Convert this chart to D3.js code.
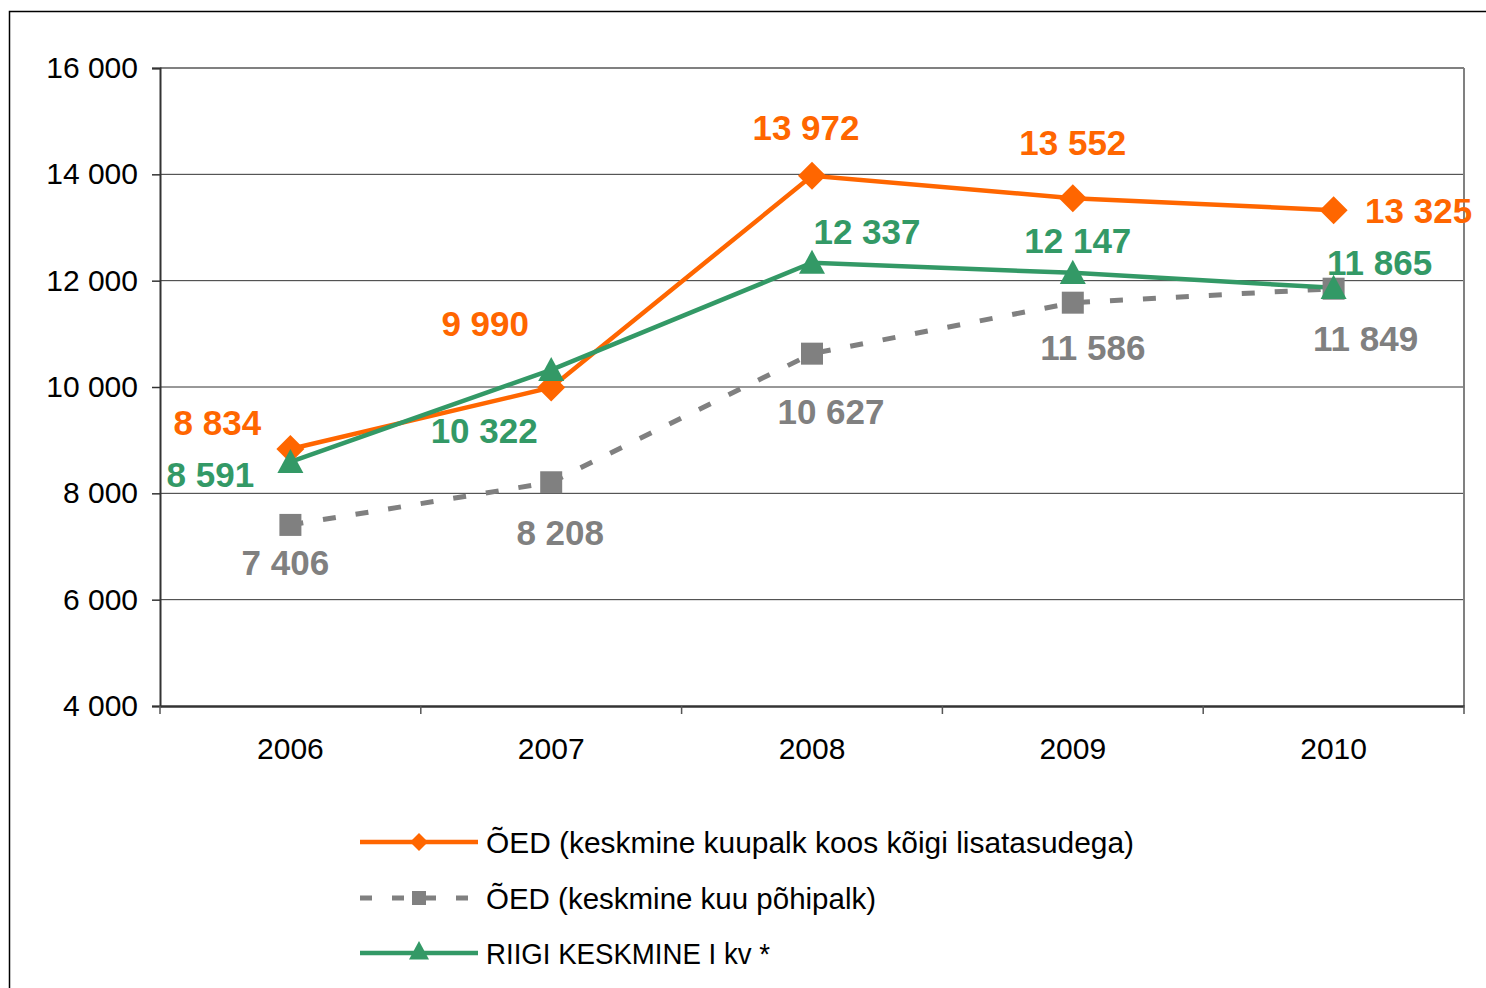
<!DOCTYPE html>
<html><head><meta charset="utf-8">
<script src="https://cdn.jsdelivr.net/npm/d3@7"></script>
<style>body{margin:0;background:#fff;font-family:"Liberation Sans",Arial,sans-serif}</style>
</head><body>
<svg id="c" width="1486" height="988"></svg>
<script>
const categories = ["2006","2007","2008","2009","2010"];
const seriesNames = ["ÕED (keskmine kuupalk koos kõigi lisatasudega)","ÕED (keskmine kuu põhipalk)","RIIGI KESKMINE I kv *"];
const totalPay = [8834, 9990, 13972, 13552, 13325];
const basePay = [7406, 8208, 10627, 11586, 11849];
const national = [8591, 10322, 12337, 12147, 11865];
const yTicks = [4000, 6000, 8000, 10000, 12000, 14000, 16000];
// label offsets (dx, dy) relative to point
const totalOff = [[-73,-26],[-66,-64],[-6,-48],[0,-56],[85,0]];
const baseOff = [[-5,38],[9,50],[19,58],[20,45],[32,50]];
const natOff = [[-80,13],[-67,61],[55,-31],[5,-32],[46,-25]];

const svg = d3.select("#c");
const L=160,R=1464,T=68,B=706;
const x = d3.scaleBand().domain(categories).range([L,R]);
const y = d3.scaleLinear().domain([4000,16000]).range([B,T]);
const cx = d => x(d)+x.bandwidth()/2;
const fmt = v => d3.format(",")(v).replace(/,/g," ");

svg.append("rect").attr("x",9.5).attr("y",11.5).attr("width",1500).attr("height",1000).attr("fill","none").attr("stroke","#000").attr("stroke-width",1.5);

// gridlines
svg.append("g").selectAll("line").data(yTicks.filter(v=>v>4000 && v<16000)).join("line")
  .attr("x1",L).attr("x2",R).attr("y1",d=>y(d)).attr("y2",d=>y(d)).attr("stroke","#333").attr("stroke-width",1);
// top & right border
svg.append("line").attr("x1",L).attr("x2",R).attr("y1",T).attr("y2",T).attr("stroke","#808080").attr("stroke-width",2);
svg.append("line").attr("x1",R).attr("x2",R).attr("y1",T).attr("y2",B).attr("stroke","#808080").attr("stroke-width",2);

// y axis
const ya = svg.append("g").attr("transform",`translate(${L},0)`).call(d3.axisLeft(y).tickValues(yTicks).tickSize(8).tickPadding(14).tickFormat(fmt));
ya.select(".domain").attr("stroke","#333").attr("stroke-width",2);
ya.selectAll(".tick line").attr("stroke","#333").attr("stroke-width",1.5);
ya.selectAll("text").attr("font-size",30).attr("font-family","Liberation Sans, Arial").attr("fill","#000");

// x axis
const xa = svg.append("g").attr("transform",`translate(0,${B})`).call(d3.axisBottom(x).tickSize(0).tickPadding(32));
xa.select(".domain").attr("stroke","#333").attr("stroke-width",2.5);
xa.selectAll("text").attr("font-size",30).attr("font-family","Liberation Sans, Arial").attr("fill","#000");
const bounds = categories.map(c=>x(c)).concat([R]);
svg.append("g").selectAll("line").data(bounds).join("line")
  .attr("x1",d=>d).attr("x2",d=>d).attr("y1",B).attr("y2",B+8).attr("stroke","#555").attr("stroke-width",1.5);

const line = d3.line().x((d,i)=>cx(categories[i])).y(d=>y(d));
const C = {o:"#FF6600", g:"#808080", n:"#339966"};

function diamond(g,px,py,s,col){ g.append("path").attr("d",`M${px},${py-s}L${px+s},${py}L${px},${py+s}L${px-s},${py}Z`).attr("fill",col); }
function square(g,px,py,s,col){ g.append("rect").attr("x",px-s).attr("y",py-s).attr("width",2*s).attr("height",2*s).attr("fill",col); }
function tri(g,px,py,s,col){ g.append("path").attr("d",`M${px},${py-s}L${px+s},${py+s*0.85}L${px-s},${py+s*0.85}Z`).attr("fill",col); }

// base pay (dashed)
svg.append("path").attr("d",line(basePay)).attr("fill","none").attr("stroke",C.g).attr("stroke-width",5).attr("stroke-dasharray","13,20");
// total
svg.append("path").attr("d",line(totalPay)).attr("fill","none").attr("stroke",C.o).attr("stroke-width",4.5);
// national
svg.append("path").attr("d",line(national)).attr("fill","none").attr("stroke",C.n).attr("stroke-width",4.5);

const mk = svg.append("g");
basePay.forEach((v,i)=>square(mk,cx(categories[i]),y(v),11,C.g));
totalPay.forEach((v,i)=>diamond(mk,cx(categories[i]),y(v),14,C.o));
national.forEach((v,i)=>tri(mk,cx(categories[i]),y(v),13,C.n));

function labels(data,off,col){
  svg.append("g").selectAll("text").data(data).join("text")
   .attr("x",(d,i)=>cx(categories[i])+off[i][0]).attr("y",(d,i)=>y(d)+off[i][1])
   .attr("text-anchor","middle").attr("dominant-baseline","central")
   .attr("font-size",35).attr("font-weight","bold").attr("font-family","Liberation Sans, Arial")
   .attr("fill",col).text(fmt);
}
labels(totalPay,totalOff,C.o);
labels(basePay,baseOff,C.g);
labels(national,natOff,C.n);

// legend
const leg = svg.append("g");
const ly=[842,898,953];
leg.append("line").attr("x1",360).attr("x2",478).attr("y1",ly[0]).attr("y2",ly[0]).attr("stroke",C.o).attr("stroke-width",4.5);
diamond(leg,419,ly[0],9,C.o);
leg.append("line").attr("x1",360).attr("x2",478).attr("y1",ly[1]).attr("y2",ly[1]).attr("stroke",C.g).attr("stroke-width",5).attr("stroke-dasharray","12,20").attr("stroke-dashoffset",0);
square(leg,419,ly[1],7,C.g);
leg.append("line").attr("x1",360).attr("x2",478).attr("y1",ly[2]).attr("y2",ly[2]).attr("stroke",C.n).attr("stroke-width",4.5);
tri(leg,419,ly[2]-2,10,C.n);
const lw=[648,390,284];
leg.selectAll("text.l").data(seriesNames).join("text").attr("class","l")
  .attr("x",486).attr("y",(d,i)=>ly[i]).attr("dominant-baseline","central")
  .attr("font-size",30).attr("font-family","Liberation Sans Narrow, Liberation Sans, Arial")
  .attr("textLength",(d,i)=>lw[i]).attr("lengthAdjust","spacingAndGlyphs")
  .attr("fill","#000").text(d=>d);
</script>
</body></html>
